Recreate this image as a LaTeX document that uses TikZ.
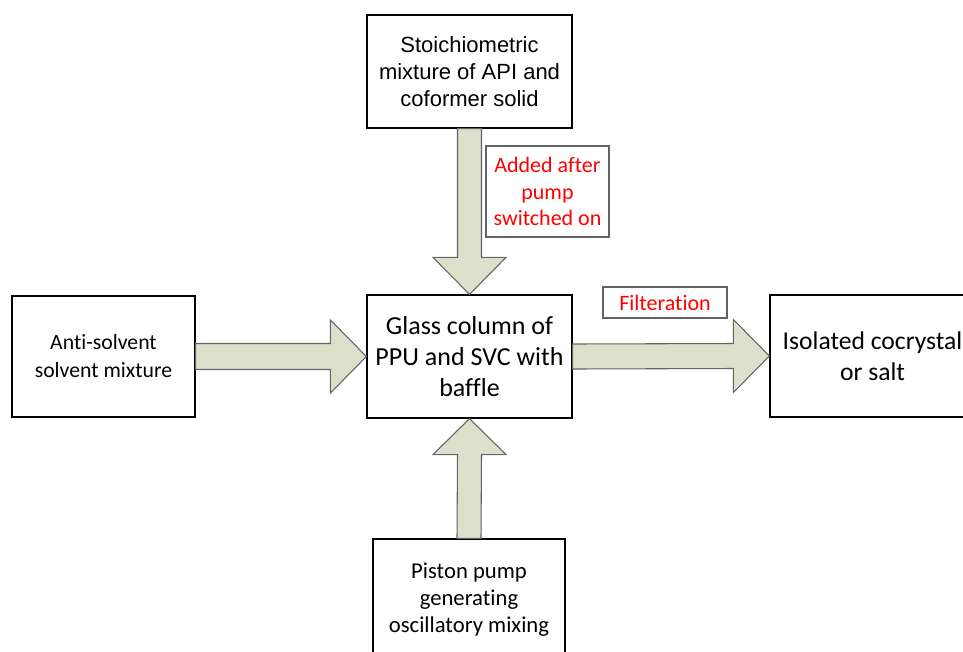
\documentclass[tikz,border=0pt]{standalone}
\usepackage{fontspec}
\setmainfont{Carlito}[Ligatures={NoCommon,NoContextual}]
\newfontfamily\arialf{Liberation Sans}
\usetikzlibrary{calc}
\definecolor{arrowfill}{RGB}{220,223,201}
\definecolor{arrowline}{RGB}{100,100,100}
\tikzset{
  box/.style={draw=black, line width=0.9pt, fill=white, align=center, inner sep=0pt},
  note/.style={draw=arrowline, line width=0.8pt, fill=white, align=center, inner sep=0pt, text=red,
    font=\fontsize{16.5}{20.2}\selectfont},
  blockarrow/.style={draw=arrowline, line width=0.8pt, fill=arrowfill, line join=miter}
}
\begin{document}
\begin{tikzpicture}[x=0.75pt, y=-0.75pt]
\useasboundingbox (0,0) rectangle (963,651);
\clip (0,0) rectangle (963,651);

\node[box, minimum width=205*0.75pt, minimum height=113*0.75pt, font=\arialf\fontsize{16.5}{20}\selectfont]
  (top) at (469.5,71.5) {Stoichiometric\\mixture of API and\\coformer solid};
\node[box, minimum width=205*0.75pt, minimum height=123*0.75pt, font=\fontsize{19.5}{23.5}\selectfont]
  (center) at (469.5,356.5) {Glass column of\\PPU and SVC with\\baffle};
\node[box, minimum width=183*0.75pt, minimum height=121*0.75pt, font=\fontsize{16.3}{21}\selectfont]
  (left) at (103.5,356.5) {Anti-solvent\\solvent mixture};
\node[box, minimum width=205*0.75pt, minimum height=122*0.75pt, font=\fontsize{19.2}{23.2}\selectfont]
  (right) at (872.5,356) {Isolated cocrystal\\or salt};
\node[box, minimum width=192*0.75pt, minimum height=122*0.75pt, font=\fontsize{17}{20.3}\selectfont]
  (bottom) at (469,600) {Piston pump\\generating\\oscillatory mixing};

% top arrow (down)
\draw[blockarrow] ($(top.south)+(-12,0)$) -- ($(center.north)+(-12,-37)$) -- ($(center.north)+(-36.5,-37)$)
  -- (center.north) -- ($(center.north)+(36.5,-37)$) -- ($(center.north)+(12,-37)$)
  -- ($(top.south)+(12,0)$) -- cycle;
% left arrow (right)
\draw[blockarrow] ($(left.east)+(0,-13)$) -- ($(center.west)+(-36,-13)$) -- ($(center.west)+(-36,-36.5)$)
  -- (center.west) -- ($(center.west)+(-36,36.5)$) -- ($(center.west)+(-36,13)$)
  -- ($(left.east)+(0,13)$) -- cycle;
% right arrow (right)
\draw[blockarrow] ($(center.east)+(0,-12.5)$) -- ($(right.west)+(-36,-12.5)$) -- ($(right.west)+(-36,-36.5)$)
  -- (right.west) -- ($(right.west)+(-36,36.5)$) -- ($(right.west)+(-36,12.5)$)
  -- ($(center.east)+(0,12.5)$) -- cycle;
% bottom arrow (up)
\draw[blockarrow] ($(bottom.north)+(-12,0)$) -- ($(center.south)+(-12,36)$) -- ($(center.south)+(-36.5,36)$)
  -- (center.south) -- ($(center.south)+(36.5,36)$) -- ($(center.south)+(12,36)$)
  -- ($(bottom.north)+(12,0)$) -- cycle;

\node[note, minimum width=123*0.75pt, minimum height=91*0.75pt] (added) at (547.5,191.5)
  {Added after\\pump\\switched on};
\node[note, minimum width=124*0.75pt, minimum height=31*0.75pt] (filt) at (665,302.5) {Filteration};
\end{tikzpicture}
\end{document}
